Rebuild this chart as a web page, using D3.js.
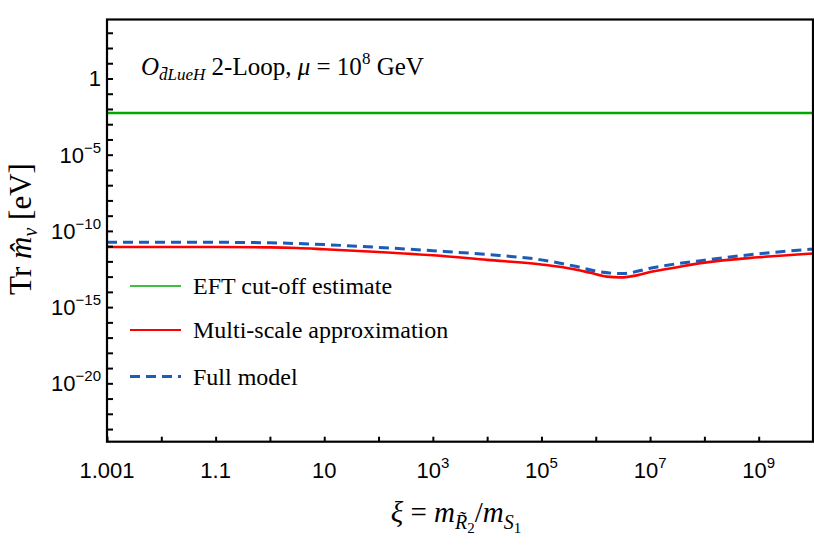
<!DOCTYPE html>
<html>
<head>
<meta charset="utf-8">
<script src="https://cdn.jsdelivr.net/npm/d3@7"></script>
<style>
  body { margin: 0; background: #fff; }
  svg text { fill: #000; }
  .serif { font-family: "Liberation Serif", "Times New Roman", serif; }
  .sans { font-family: "Liberation Sans", Arial, sans-serif; }
</style>
</head>
<body>
<svg id="chart" width="814" height="546"></svg>
<script>
// x axis positions (uniform axis coordinate) and their labels
var xTickPos    = [ -3, -1, 1, 3, 5, 7, 9 ];
var xTickBase   = [ '1.001', '1.1', '10', '10', '10', '10', '10' ];
var xTickExp    = [ '', '', '', '3', '5', '7', '9' ];
var xMinorPos   = [ -2, 0, 2, 4, 6, 8, 10 ];

// y axis (log) ticks
var yTickValues = [ 1, 1e-5, 1e-10, 1e-15, 1e-20 ];
var yTickExp    = [ 0, -5, -10, -15, -20 ];

// EFT cut-off estimate
var eftX = [ -3, 10 ];
var eftY = [ 5.5e-3, 5.5e-3 ];

// Multi-scale approximation
var multiX = [ -3, -1, 0, 0.5, 1, 2, 3, 4, 5, 5.6, 5.9, 6.2, 6.45, 6.7, 7.0, 7.5, 8, 9, 10 ];
var multiY = [ 8.71e-12, 8.71e-12, 8.32e-12, 7.59e-12, 6.31e-12, 4.17e-12, 2.51e-12, 1.26e-12, 6.31e-13,
               3.09e-13, 1.78e-13, 1.0e-13, 8.9e-14, 1.12e-13, 2.0e-13, 4.17e-13, 8.32e-13, 1.86e-12, 3.31e-12 ];

// Full model
var fullX = [ -3, -1, 0, 1, 2, 3, 4, 5, 5.6, 6.1, 6.5, 7.0, 7.5, 8, 9, 10 ];
var fullY = [ 1.78e-11, 1.78e-11, 1.66e-11, 1.26e-11, 8.32e-12, 5.01e-12, 2.82e-12, 1.26e-12, 5.01e-13,
              2.0e-13, 1.58e-13, 3.55e-13, 7.08e-13, 1.2e-12, 3.16e-12, 6.46e-12 ];

var legendNames = [ 'EFT cut-off estimate', 'Multi-scale approximation', 'Full model' ];
var colors = [ '#00a800', '#ff0000', '#1a5cb8' ];

var plotLeft = 107, plotRight = 813, plotTop = 19.5, plotBottom = 441.7;
var svg = d3.select( '#chart' );

var x = d3.scaleLinear().domain( [ -3, 10 ] ).range( [ plotLeft, plotRight ] );
var y = d3.scaleLog().domain( [ Math.pow( 10, -23.83 ), Math.pow( 10, 3.87 ) ] ).range( [ plotBottom, plotTop ] );

svg.append( 'clipPath' ).attr( 'id', 'clip' )
   .append( 'rect' ).attr( 'x', plotLeft ).attr( 'y', plotTop )
   .attr( 'width', plotRight - plotLeft ).attr( 'height', plotBottom - plotTop );

/** Draw a series */
function drawSeries( xs, ys, color, width, dash ) {
    var pts = xs.map( function( d, i ) { return [ d, ys[ i ] ]; } );
    var line = d3.line()
        .x( function( d ) { return x( d[ 0 ] ); } )
        .y( function( d ) { return y( d[ 1 ] ); } )
        .curve( d3.curveMonotoneX );
    svg.append( 'path' )
       .datum( pts )
       .attr( 'clip-path', 'url(#clip)' )
       .attr( 'fill', 'none' )
       .attr( 'stroke', color )
       .attr( 'stroke-width', width )
       .attr( 'stroke-dasharray', dash || null )
       .attr( 'd', line );
}

drawSeries( eftX, eftY, colors[ 0 ], 2.6 );
drawSeries( multiX, multiY, colors[ 1 ], 2.6 );
drawSeries( fullX, fullY, colors[ 2 ], 3, '10,6' );

// x ticks, pointing inward
var xAxis = d3.axisBottom( x ).tickValues( xTickPos.concat( xMinorPos ) ).tickSizeInner( -5 ).tickSizeOuter( 0 ).tickFormat( '' );
svg.append( 'g' ).attr( 'transform', 'translate(0,' + plotBottom + ')' ).call( xAxis )
   .call( function( g ) { g.select( '.domain' ).remove(); g.selectAll( 'line' ).attr( 'stroke', '#000' ).attr( 'stroke-width', 2 ); } );

// y ticks: one per decade, inward
var yMinor = d3.range( -23, 4 ).map( function( e ) { return Math.pow( 10, e ); } );
var yAxis = d3.axisLeft( y ).tickValues( yMinor ).tickSizeInner( -6 ).tickSizeOuter( 0 ).tickFormat( '' );
svg.append( 'g' ).attr( 'transform', 'translate(' + plotLeft + ',0)' ).call( yAxis )
   .call( function( g ) { g.select( '.domain' ).remove(); g.selectAll( 'line' ).attr( 'stroke', '#000' ).attr( 'stroke-width', 2 ); } );

// frame
svg.append( 'rect' ).attr( 'x', plotLeft ).attr( 'y', plotTop )
   .attr( 'width', plotRight - plotLeft ).attr( 'height', plotBottom - plotTop )
   .attr( 'fill', 'none' ).attr( 'stroke', '#000' ).attr( 'stroke-width', 2.2 );

// x tick labels
xTickPos.forEach( function( p, i ) {
    var t = svg.append( 'text' ).attr( 'class', 'sans' ).attr( 'x', x( p ) ).attr( 'y', 478 )
               .attr( 'text-anchor', 'middle' ).style( 'font-size', '22px' );
    t.append( 'tspan' ).text( xTickBase[ i ] );
    if ( xTickExp[ i ] ) t.append( 'tspan' ).attr( 'dy', -10 ).style( 'font-size', '15px' ).text( xTickExp[ i ] );
});

// y tick labels
yTickValues.forEach( function( v, i ) {
    var t = svg.append( 'text' ).attr( 'class', 'sans' ).attr( 'x', 101 ).attr( 'y', y( v ) + 8 )
               .attr( 'text-anchor', 'end' ).style( 'font-size', '22px' );
    if ( yTickExp[ i ] === 0 ) { t.text( '1' ); return; }
    t.append( 'tspan' ).text( '10' );
    t.append( 'tspan' ).attr( 'dy', -10 ).style( 'font-size', '15px' ).text( '\u2212' + ( -yTickExp[ i ] ) );
});

// annotation
var ann = svg.append( 'text' ).attr( 'class', 'serif' ).attr( 'x', 141 ).attr( 'y', 75 ).style( 'font-size', '25px' );
ann.append( 'tspan' ).style( 'font-style', 'italic' ).text( 'O' );
ann.append( 'tspan' ).attr( 'dy', 5 ).style( 'font-style', 'italic' ).style( 'font-size', '17px' ).text( 'd\u0304LueH' );
ann.append( 'tspan' ).attr( 'dy', -5 ).text( ' 2-Loop, ' );
ann.append( 'tspan' ).style( 'font-style', 'italic' ).text( '\u03bc' );
ann.append( 'tspan' ).text( ' = 10' );
ann.append( 'tspan' ).attr( 'dy', -11 ).style( 'font-size', '17px' ).text( '8' );
ann.append( 'tspan' ).attr( 'dy', 11 ).text( ' GeV' );

// legend
var legY = [ 286, 330, 376.5 ];
var legWidth = [ 1.6, 2.2, 3 ];
var legDash = [ null, null, '10,6' ];
legendNames.forEach( function( name, i ) {
    svg.append( 'line' ).attr( 'x1', 130 ).attr( 'x2', 181 ).attr( 'y1', legY[ i ] ).attr( 'y2', legY[ i ] )
       .attr( 'stroke', colors[ i ] ).attr( 'stroke-width', legWidth[ i ] ).attr( 'stroke-dasharray', legDash[ i ] );
    svg.append( 'text' ).attr( 'class', 'serif' ).attr( 'x', 193 ).attr( 'y', legY[ i ] + 8 )
       .style( 'font-size', '24px' ).text( name );
});

// x axis title
var xt = svg.append( 'text' ).attr( 'class', 'serif' ).attr( 'x', 456 ).attr( 'y', 522 )
            .attr( 'text-anchor', 'middle' ).style( 'font-size', '29px' );
xt.append( 'tspan' ).style( 'font-style', 'italic' ).text( '\u03be' );
xt.append( 'tspan' ).text( ' = ' );
xt.append( 'tspan' ).style( 'font-style', 'italic' ).text( 'm' );
xt.append( 'tspan' ).attr( 'dy', 7 ).style( 'font-style', 'italic' ).style( 'font-size', '20px' ).text( 'R\u0303' );
xt.append( 'tspan' ).attr( 'dy', 4 ).style( 'font-size', '15px' ).text( '2' );
xt.append( 'tspan' ).attr( 'dy', -11 ).text( '/' );
xt.append( 'tspan' ).style( 'font-style', 'italic' ).text( 'm' );
xt.append( 'tspan' ).attr( 'dy', 7 ).style( 'font-style', 'italic' ).style( 'font-size', '20px' ).text( 'S' );
xt.append( 'tspan' ).attr( 'dy', 4 ).style( 'font-size', '15px' ).text( '1' );

// y axis title
var yt = svg.append( 'text' ).attr( 'class', 'serif' ).attr( 'transform', 'translate(31,229) rotate(-90)' )
            .attr( 'text-anchor', 'middle' ).style( 'font-size', '31px' );
yt.append( 'tspan' ).text( 'Tr ' );
yt.append( 'tspan' ).style( 'font-style', 'italic' ).text( 'm\u0302' );
yt.append( 'tspan' ).attr( 'dy', 6 ).style( 'font-style', 'italic' ).style( 'font-size', '20px' ).text( '\u03bd' );
yt.append( 'tspan' ).attr( 'dy', -6 ).text( ' [eV]' );
</script>
</body>
</html>
